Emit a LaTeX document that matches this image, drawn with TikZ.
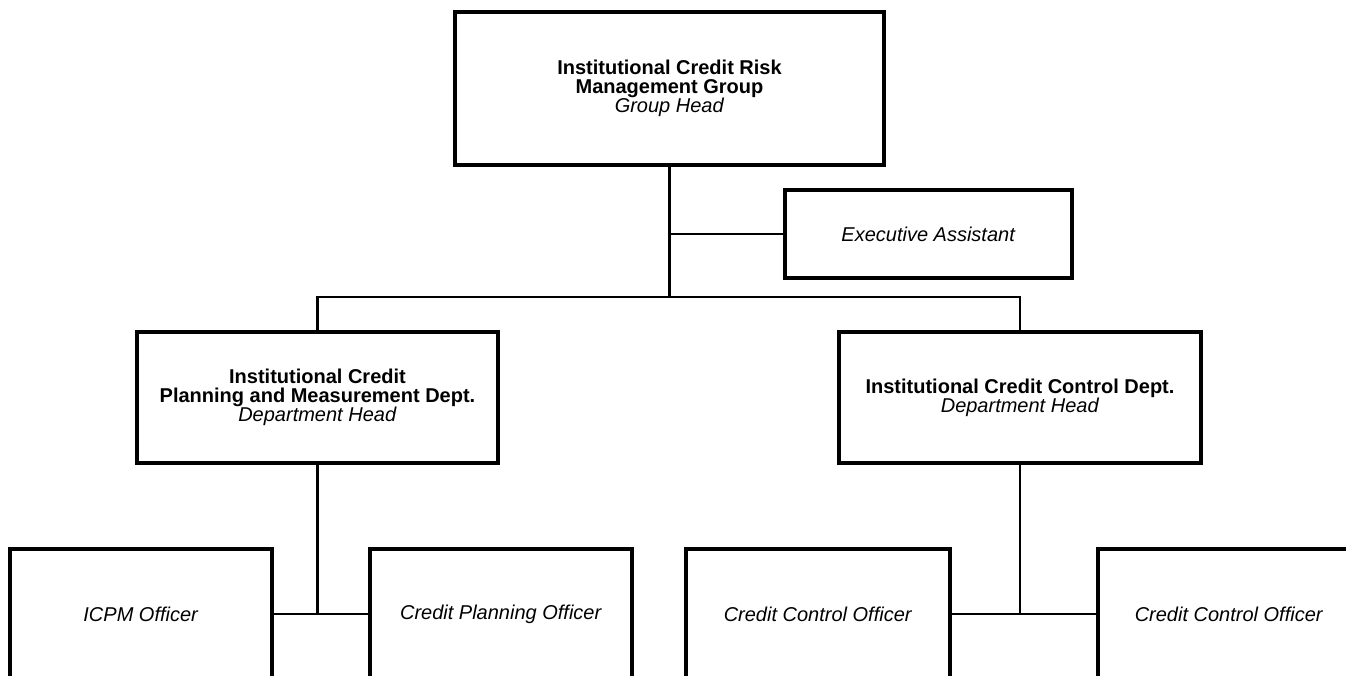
\documentclass[tikz,border=0pt]{standalone}
\usepackage{fontspec}
\setmainfont{Liberation Sans}
\begin{document}
\begin{tikzpicture}[x=1pt,y=-1pt,
  box/.style={draw, line width=3.2pt, align=center, inner sep=0pt,
    font=\fontsize{20}{19}\selectfont},
  link/.style={line width=2.6pt}]
\useasboundingbox (0,0) rectangle (1346,676);
\clip (0,0) rectangle (1346,676);

% group head and assistant
\node[box, minimum width=429, minimum height=153] (grp) at (669.5,88.5)
  {\textbf{Institutional Credit Risk}\\\textbf{Management Group}\\\textit{Group Head}};
\node[box, minimum width=287, minimum height=88] (ea) at (928.5,234)
  {\textit{Executive Assistant}};

% departments
\node[box, minimum width=361, minimum height=131] (icpd) at (317.5,397.5)
  {\textbf{Institutional Credit}\\\textbf{Planning and Measurement Dept.}\\\textit{Department Head}};
\node[box, minimum width=362, minimum height=131] (iccd) at (1020,397.5)
  {\textbf{Institutional Credit Control Dept.}\\\textit{Department Head}};

% officers
\node[box, minimum width=262, minimum height=130] (icpm) at (141,614) {\textit{ICPM Officer}};
\node[box, minimum width=262, minimum height=130] (cpo) at (501,614) {\textit{Credit Planning Officer}};
\node[box, minimum width=264, minimum height=130] (cco1) at (818,614) {\textit{Credit Control Officer}};
\node[box, minimum width=262, minimum height=130] (cco2) at (1229,614) {\textit{Credit Control Officer}};

% connectors
\coordinate (bus) at (669.5,297);
\draw[link] (grp.south) -- (bus);
\draw[link] (ea.west) -- (ea.west -| grp.south);
\draw[link] (icpd.north) |- (bus) -| (iccd.north);

\coordinate (jl) at (icpd.south |- icpm.east);
\draw[link] (icpd.south) -- (jl);
\draw[link] (icpm.east) -- (cpo.west);

\coordinate (jr) at (iccd.south |- cco1.east);
\draw[link] (iccd.south) -- (jr);
\draw[link] (cco1.east) -- (cco2.west);
\end{tikzpicture}
\end{document}
